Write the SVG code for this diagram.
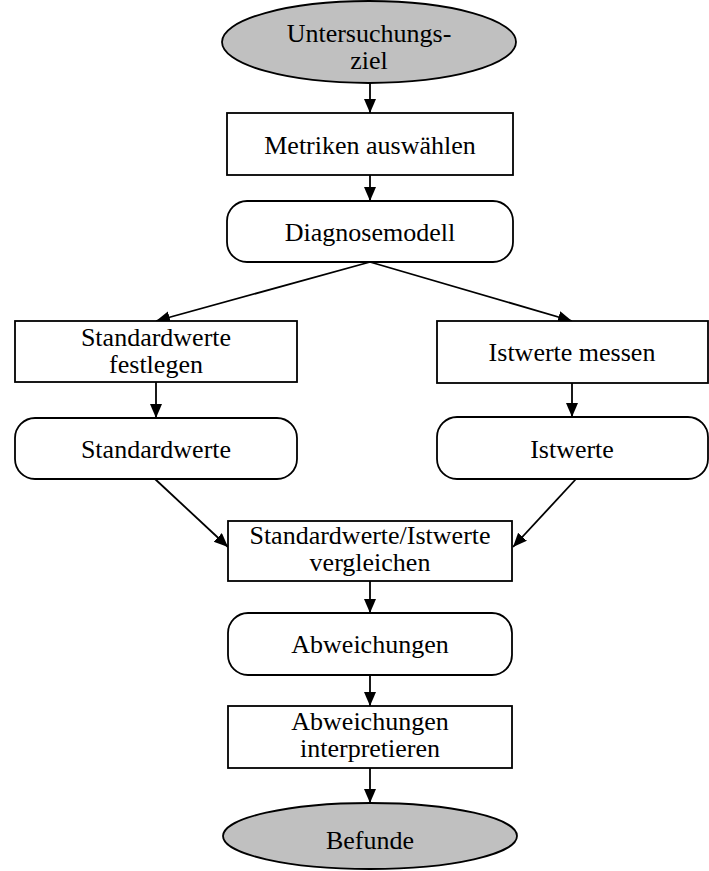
<svg xmlns="http://www.w3.org/2000/svg" width="709" height="871" viewBox="0 0 709 871">
<style>
.n{fill:#fff;stroke:#000;stroke-width:1.8}
.e{fill:#c0c0c0;stroke:#000;stroke-width:1.8}
.t{font-family:"Liberation Serif","Times New Roman",serif;font-size:26px;fill:#000;text-anchor:middle}
.c{stroke:#000;stroke-width:1.8;fill:none;marker-end:url(#ah)}
</style>
<defs>
<marker id="ah" markerUnits="userSpaceOnUse" markerWidth="15" markerHeight="13" refX="14" refY="6" orient="auto">
<path d="M0,0 L14,6 L0,12 z" fill="#000"/>
</marker>
</defs>
<rect width="709" height="871" fill="#fff"/>
<g id="connectors">
<line class="c" x1="370" y1="83" x2="370" y2="113"/>
<line class="c" x1="370" y1="175" x2="370" y2="201"/>
<line class="c" x1="370" y1="262" x2="156" y2="321"/>
<line class="c" x1="370" y1="262" x2="572" y2="321"/>
<line class="c" x1="156" y1="382" x2="156" y2="418"/>
<line class="c" x1="572" y1="383" x2="572" y2="417"/>
<line class="c" x1="155" y1="479" x2="228" y2="547"/>
<line class="c" x1="576" y1="479" x2="513" y2="547"/>
<line class="c" x1="370" y1="581" x2="370" y2="613"/>
<line class="c" x1="370" y1="675" x2="370" y2="706"/>
<line class="c" x1="370" y1="768" x2="370" y2="803"/>
</g>
<g id="untersuchungsziel">
<ellipse class="e" cx="369" cy="42" rx="147" ry="41"/>
<text class="t" x="369" y="42">Untersuchungs-</text>
<text class="t" x="369" y="69">ziel</text>
</g>
<g id="metriken">
<rect class="n" x="227" y="113" width="286" height="62"/>
<text class="t" x="370" y="154">Metriken auswählen</text>
</g>
<g id="diagnosemodell">
<rect class="n" x="227" y="201" width="286" height="61" rx="20" ry="20"/>
<text class="t" x="370" y="241">Diagnosemodell</text>
</g>
<g id="standardwerte-festlegen">
<rect class="n" x="15" y="321" width="282" height="61"/>
<text class="t" x="156" y="346">Standardwerte</text>
<text class="t" x="156" y="373">festlegen</text>
</g>
<g id="istwerte-messen">
<rect class="n" x="437" y="321" width="271" height="62"/>
<text class="t" x="572" y="361">Istwerte messen</text>
</g>
<g id="standardwerte">
<rect class="n" x="15" y="418" width="282" height="61" rx="20" ry="20"/>
<text class="t" x="156" y="458">Standardwerte</text>
</g>
<g id="istwerte">
<rect class="n" x="437" y="417" width="271" height="62" rx="20" ry="20"/>
<text class="t" x="572" y="458">Istwerte</text>
</g>
<g id="vergleichen">
<rect class="n" x="228" y="521" width="284" height="60"/>
<text class="t" x="370" y="544">Standardwerte/Istwerte</text>
<text class="t" x="370" y="571">vergleichen</text>
</g>
<g id="abweichungen">
<rect class="n" x="228" y="613" width="284" height="62" rx="20" ry="20"/>
<text class="t" x="370" y="653">Abweichungen</text>
</g>
<g id="interpretieren">
<rect class="n" x="228" y="706" width="284" height="62"/>
<text class="t" x="370" y="730">Abweichungen</text>
<text class="t" x="370" y="757">interpretieren</text>
</g>
<g id="befunde">
<ellipse class="e" cx="370" cy="836" rx="147" ry="33"/>
<text class="t" x="370" y="849">Befunde</text>
</g>
</svg>
